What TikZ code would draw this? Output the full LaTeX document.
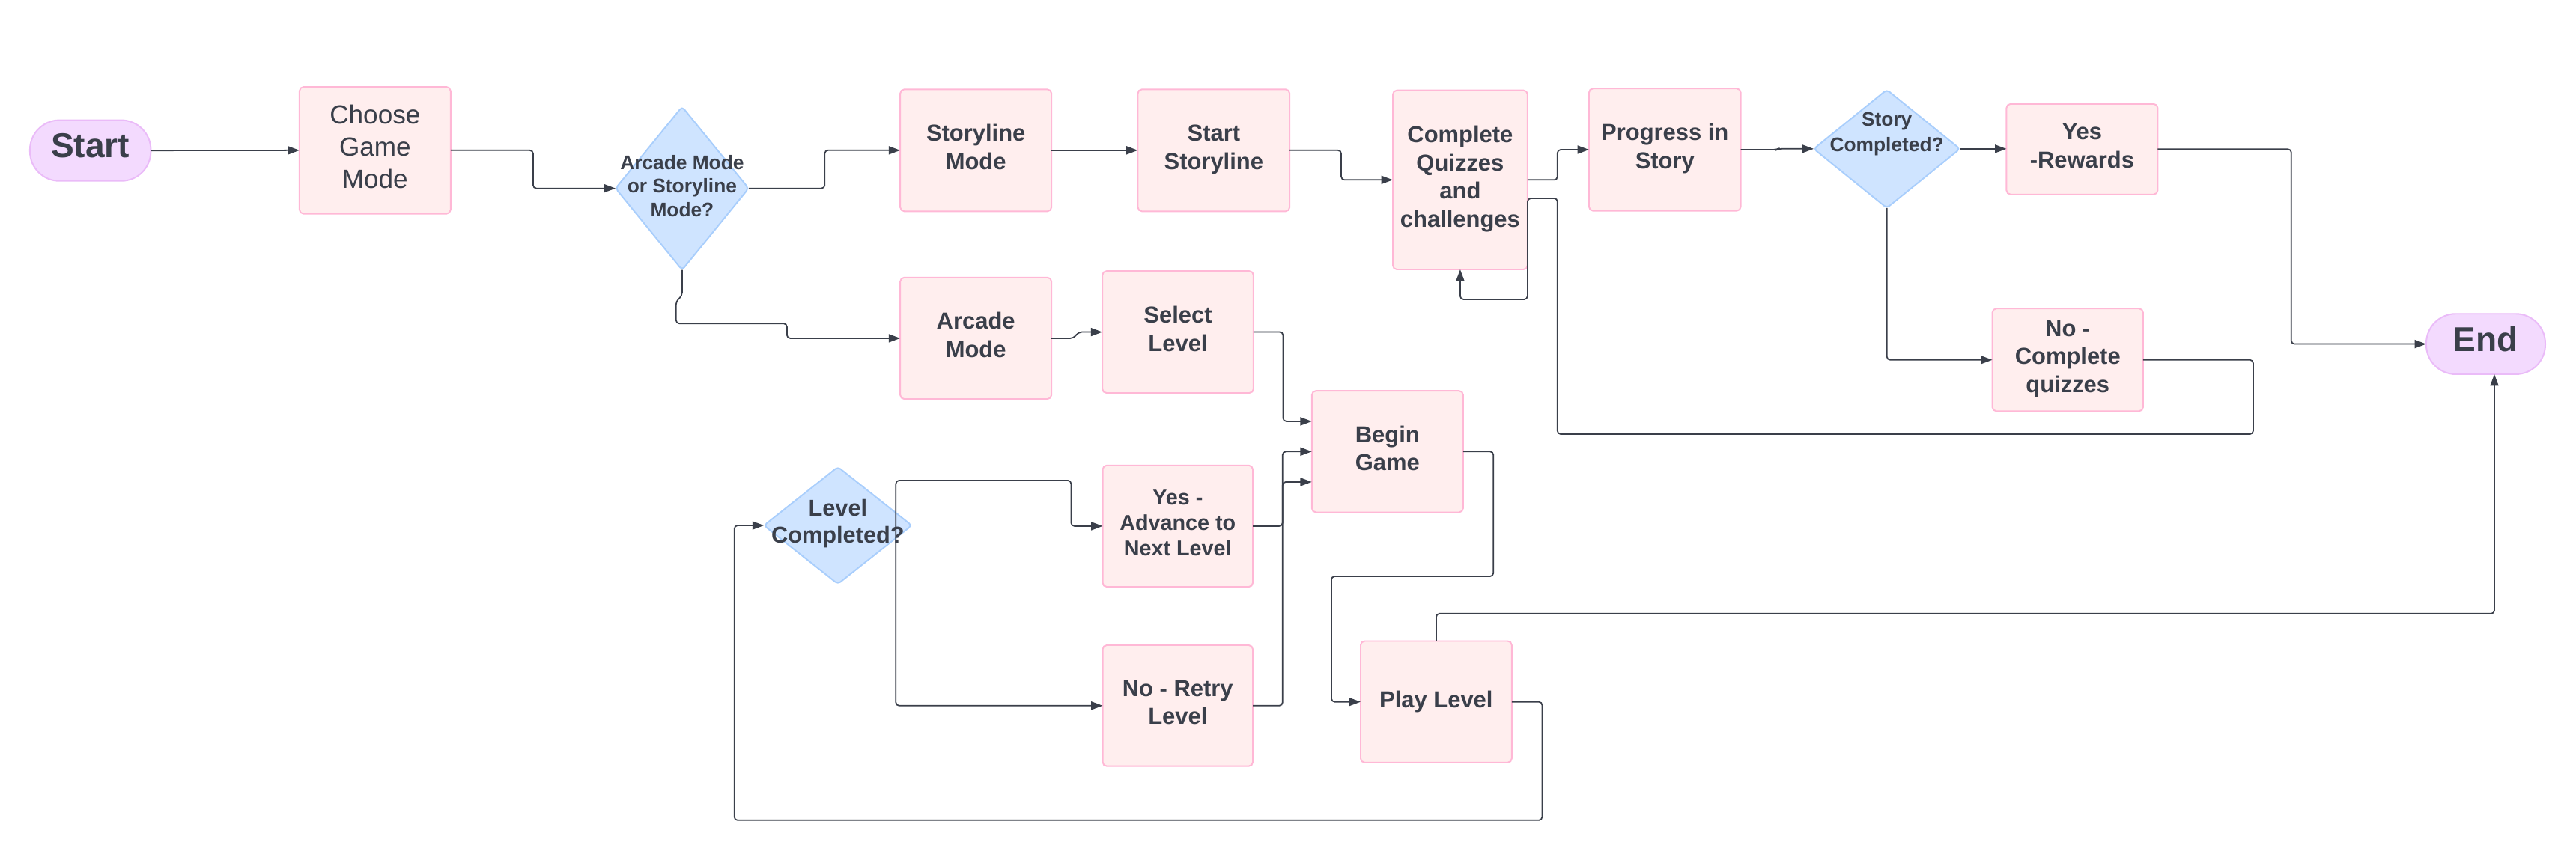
\documentclass[tikz,border=0pt]{standalone}
\usepackage{fontspec}
\setmainfont{Liberation Sans}
\usetikzlibrary{arrows.meta,shapes.geometric}
\definecolor{boxf}{HTML}{FFEEEE}
\definecolor{boxb}{HTML}{FFB8D6}
\definecolor{diaf}{HTML}{CFE4FF}
\definecolor{diab}{HTML}{A9CEFC}
\definecolor{pillf}{HTML}{F3DAFE}
\definecolor{pillb}{HTML}{EABBF8}
\definecolor{txt}{HTML}{3A3F4A}
\definecolor{ln}{HTML}{3A3F4A}
\begin{document}
\begin{tikzpicture}[x=1pt,y=-1pt,
  box/.style={draw=boxb, fill=boxf, line width=0.9pt, rounded corners=2.5pt, inner sep=0pt, outer sep=0pt, text=txt, align=center, font=\bfseries\fontsize{14.1}{17.2}\selectfont,
    execute at begin node={\rule{0pt}{0.78em}}, execute at end node={\rule[-0.29em]{0pt}{0.29em}}},
  pill/.style={draw=pillb, fill=pillf, line width=0.9pt, rounded corners=18pt, inner sep=0pt, outer sep=0pt},
  ptext/.style={text=txt, inner sep=0pt, outer sep=0pt, font=\bfseries\fontsize{21}{25}\selectfont},
  dia/.style={diamond, draw=diab, fill=diaf, line width=0.9pt, rounded corners=2pt, inner sep=0pt, outer sep=0pt},
  dtext/.style={text=txt, align=center, inner sep=0pt, outer sep=0pt},
  conn/.style={draw=ln, line width=0.8pt, rounded corners=2pt, -{Triangle[length=7pt,width=5pt]}}
]
\useasboundingbox (0,0) rectangle (1568,518.26);

% terminals
\node[pill, minimum width=73.6pt, minimum height=37pt] (st) at (55,91.7) {};
\node[ptext] (stt) at (55,88.6) {Start};
\node[pill, minimum width=72.5pt, minimum height=36.8pt] (en) at (1513.05,209.5) {};
\node[ptext] (ent) at (1513.05,206.4) {End};

% boxes
\node[box, minimum width=92pt, minimum height=77.3pt, font=\fontsize{16}{19.6}\selectfont] (cg) at (228.3,91.55) {Choose\\Game\\Mode};
\node[box, minimum width=92.1pt, minimum height=74.3pt] (sm) at (594,91.55) {Storyline\\Mode};
\node[box, minimum width=92.4pt, minimum height=74.3pt] (ss) at (738.8,91.55) {Start\\Storyline};
\node[box, minimum width=82pt, minimum height=109.1pt] (cq) at (888.8,109.55) {Complete\\Quizzes\\and\\challenges};
\node[box, minimum width=92.4pt, minimum height=74.5pt] (ps) at (1013.4,91.15) {Progress in\\Story};
\node[box, minimum width=92.1pt, minimum height=55.1pt] (yr) at (1267.35,90.85) {Yes\\-Rewards};
\node[box, minimum width=91.8pt, minimum height=62.5pt] (nc) at (1258.6,219.15) {No -\\Complete\\quizzes};
\node[box, minimum width=92.1pt, minimum height=74pt] (ar) at (594,206) {Arcade\\Mode};
\node[box, minimum width=92pt, minimum height=74.2pt] (sl) at (717,202.2) {Select\\Level};
\node[box, minimum width=92.1pt, minimum height=74pt] (bg) at (844.55,275) {Begin\\Game};
\node[box, minimum width=91.4pt, minimum height=74pt, font=\bfseries\fontsize{13.1}{15.5}\selectfont] (ya) at (716.9,320.4) {Yes -\\Advance to\\Next Level};
\node[box, minimum width=91.4pt, minimum height=73.7pt] (nr) at (716.9,429.75) {No - Retry\\Level};
\node[box, minimum width=92pt, minimum height=74pt] (pl) at (874.2,427.4) {Play Level};

% decisions
\node[dia, minimum width=81pt, minimum height=99.4pt] (d1) at (415.2,114.7) {};
\node[dtext, font=\bfseries\fontsize{12}{14.4}\selectfont] (d1t) at (415.2,113.2) {Arcade Mode\\or Storyline\\Mode?};
\node[dia, minimum width=89pt, minimum height=72pt] (sc) at (1148.5,90.65) {};
\node[dtext, font=\bfseries\fontsize{12}{15.2}\selectfont] (sct) at (1148.5,81.6) {Story\\Completed?};
\node[dia, minimum width=90pt, minimum height=71.3pt] (lc) at (510,320) {};
\node[dtext, font=\bfseries\fontsize{14}{16.7}\selectfont] (lct) at (510,318.8) {Level\\Completed?};

% connectors
\draw[conn] (st.east) -- (cg.west);
\draw[conn] (cg.east) -- (324.5,91.55) -- (324.5,114.7) -- (d1.west);
\draw[conn] (d1.east) -- (502,114.7) -- (502,91.55) -- (sm.west);
\draw[conn] (d1.south) -- (415.2,180) -- (411.5,183.5) -- (411.5,197) -- (479,197) -- (479,206) -- (ar.west);
\draw[conn] (sm.east) -- (ss.west);
\draw[conn] (ss.east) -- (816.4,91.55) -- (816.4,109.55) -- (cq.west);
\draw[conn] (cq.east) -- (948,109.55) -- (948,91.15) -- (ps.west);
\draw[conn] (ps.east) -- (1081.5,91.15) -- (1082.5,90.65) -- (sc.west);
\draw[conn] (sc.east) -- (yr.west |- sc.east);
\draw[conn] (sc.south) |- (nc.west);
\draw[conn] (yr.east) -- (1394.7,90.85) |- (en.west);
\draw[conn] (nc.east) -- (1371.5,219.15) -- (1371.5,264.4) -- (948,264.4) -- (948,120.8) -- (929.8,120.8) -- (929.8,182.3) -- (888.8,182.3) -- (cq.south);
\draw[conn] (ar.east) -- (653.5,206) -- (656.5,202.2) -- (sl.west);
\draw[conn] (sl.east) -- (781,202.2) -- (781,256.6) -- (bg.west |- 0,256.6);
\draw[conn] (ya.east) -- (780.7,320.4) -- (780.7,293.5) -- (bg.west |- 0,293.5);
\draw[conn] (nr.east) -- (780.7,429.75) -- (780.7,275) -- (bg.west);
\draw[conn] (bg.east) -- (909,275) -- (909,351) -- (810.4,351) -- (810.4,427.4) -- (pl.west);
\draw[conn] (pl.north) -- (874.2,373.7) -- (1518.3,373.7) -- (1518.3,0 |- en.south);
\draw[conn] (pl.east) -- (938.7,427.4) -- (938.7,499.5) -- (447,499.5) -- (447,320) -- (lc.west);
\coordinate (lcR) at (545.3,320);
\draw[conn] (lcR) -- (545.3,292.6) -- (652,292.6) -- (652,320.4) -- (ya.west);
\draw[conn] (lcR) -- (545.3,429.75) -- (nr.west);
\end{tikzpicture}
\end{document}
